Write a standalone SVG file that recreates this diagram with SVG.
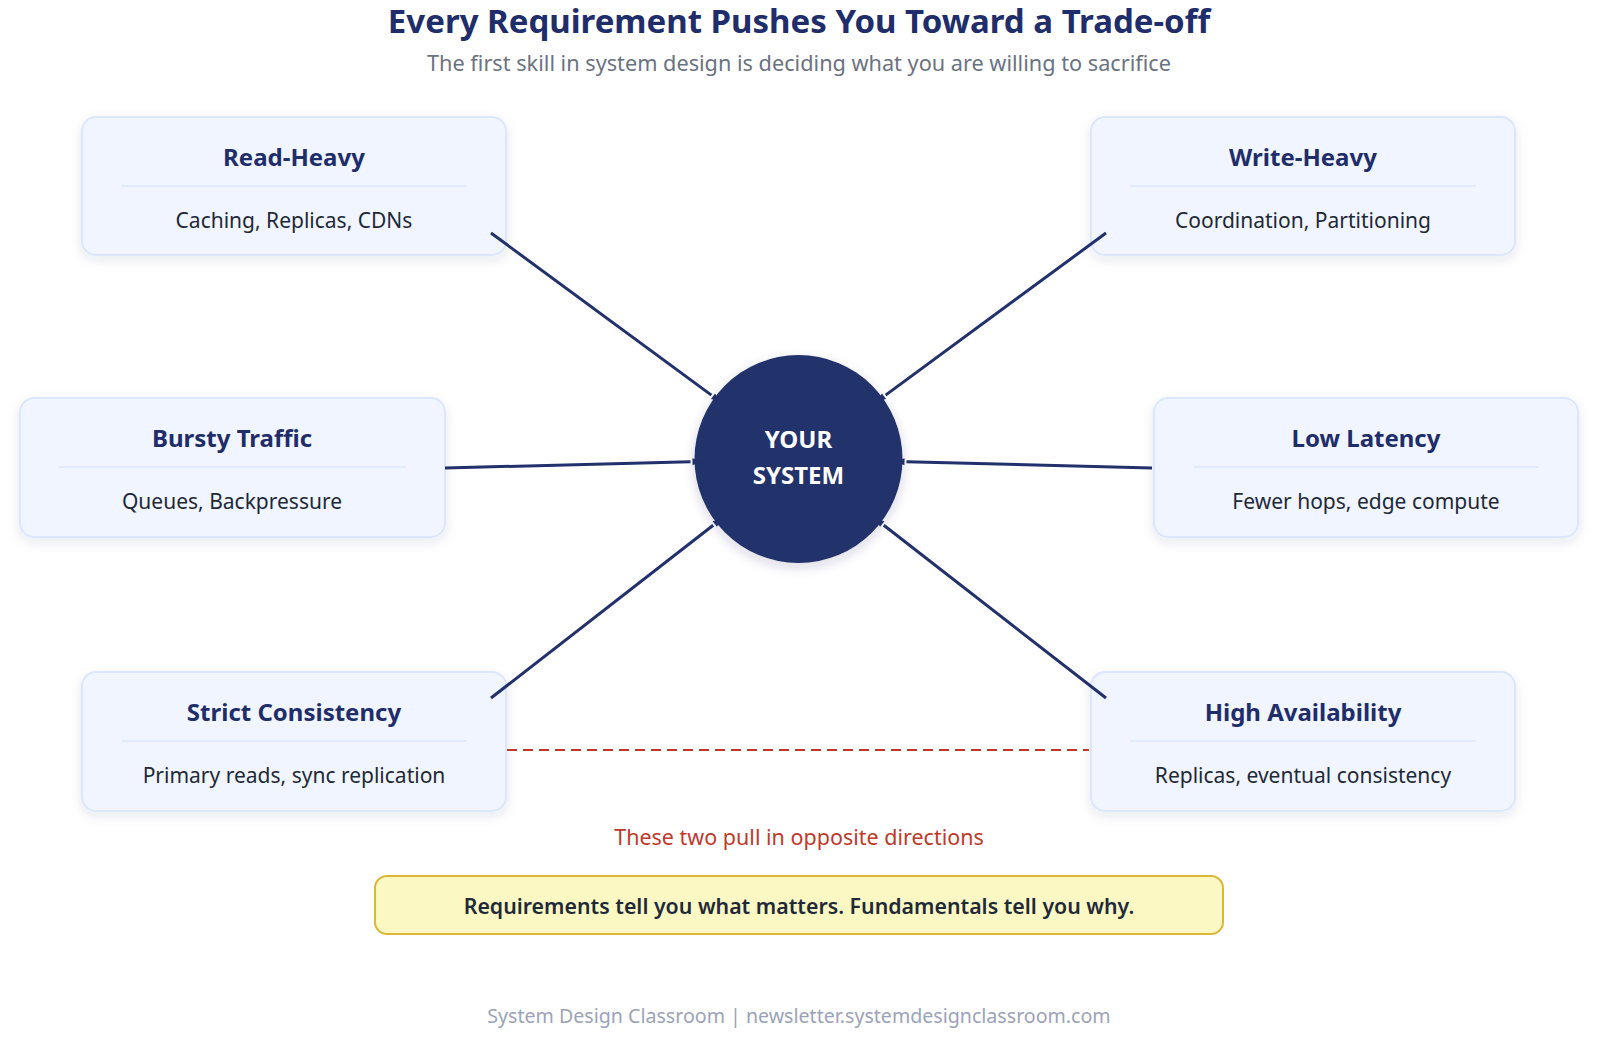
<svg xmlns="http://www.w3.org/2000/svg" width="1601" height="1038" viewBox="0 0 1601 1038">
<defs>
<filter id="sh" x="-10%" y="-15%" width="120%" height="135%">
<feDropShadow dx="0" dy="4" stdDeviation="6" flood-color="#1e2a5a" flood-opacity="0.10"/>
</filter>
<filter id="csh" x="-20%" y="-20%" width="140%" height="140%">
<feDropShadow dx="0" dy="4" stdDeviation="6" flood-color="#1e2a5a" flood-opacity="0.18"/>
</filter>
<marker id="ah" markerUnits="userSpaceOnUse" markerWidth="16" markerHeight="12" viewBox="0 -6 16 12" refX="0" refY="0" orient="auto">
<path d="M2,-3.5 L11,0 L2,3.5 z" fill="#22306b"/>
</marker>
<style>
.box{fill:#f0f5ff;stroke:#dce7fd;stroke-width:2}
.div{stroke:#dce7fd;stroke-width:1.5}
.nt{font-family:"Noto Sans","Open Sans",sans-serif;font-weight:700;font-size:24px;fill:#1f2d6b;text-anchor:middle}
.ns{font-family:"Noto Sans","Open Sans",sans-serif;font-size:21px;fill:#1f2937;text-anchor:middle}
.ln{stroke:#22306b;stroke-width:3;fill:none;marker-end:url(#ah)}
</style>
</defs>
<rect width="1601" height="1038" fill="#ffffff"/>
<text x="799" y="33" font-family="Noto Sans, sans-serif" font-weight="700" font-size="33" fill="#1f2d6b" text-anchor="middle">Every Requirement Pushes You Toward a Trade-off</text>
<text x="799" y="71" font-family="Noto Sans, sans-serif" font-size="21.7" fill="#6b7280" text-anchor="middle">The first skill in system design is deciding what you are willing to sacrifice</text>

<g id="read-heavy">
<rect class="box" x="82" y="117" width="424" height="138" rx="14" filter="url(#sh)"/>
<text class="nt" x="294" y="166">Read-Heavy</text>
<line class="div" x1="121" y1="186" x2="467" y2="186"/>
<text class="ns" x="294" y="228">Caching, Replicas, CDNs</text>
</g>
<g id="write-heavy">
<rect class="box" x="1091" y="117" width="424" height="138" rx="14" filter="url(#sh)"/>
<text class="nt" x="1303" y="166">Write-Heavy</text>
<line class="div" x1="1130" y1="186" x2="1476" y2="186"/>
<text class="ns" x="1303" y="228">Coordination, Partitioning</text>
</g>
<g id="bursty-traffic">
<rect class="box" x="20" y="398" width="425" height="139" rx="14" filter="url(#sh)"/>
<text class="nt" x="232" y="447">Bursty Traffic</text>
<line class="div" x1="59" y1="467" x2="406" y2="467"/>
<text class="ns" x="232" y="509">Queues, Backpressure</text>
</g>
<g id="low-latency">
<rect class="box" x="1154" y="398" width="424" height="139" rx="14" filter="url(#sh)"/>
<text class="nt" x="1366" y="447">Low Latency</text>
<line class="div" x1="1193" y1="467" x2="1539" y2="467"/>
<text class="ns" x="1366" y="509">Fewer hops, edge compute</text>
</g>
<g id="strict-consistency">
<rect class="box" x="82" y="672" width="424" height="139" rx="14" filter="url(#sh)"/>
<text class="nt" x="294" y="721">Strict Consistency</text>
<line class="div" x1="121" y1="741" x2="467" y2="741"/>
<text class="ns" x="294" y="783">Primary reads, sync replication</text>
</g>
<g id="high-availability">
<rect class="box" x="1091" y="672" width="424" height="139" rx="14" filter="url(#sh)"/>
<text class="nt" x="1303" y="721">High Availability</text>
<line class="div" x1="1130" y1="741" x2="1476" y2="741"/>
<text class="ns" x="1303" y="783">Replicas, eventual consistency</text>
</g>

<g id="your-system">
<circle cx="798.5" cy="459" r="104" fill="#22306b" filter="url(#csh)"/>
<text x="798.5" y="448" font-family="Noto Sans, sans-serif" font-weight="700" font-size="24" fill="#ffffff" text-anchor="middle">YOUR</text>
<text x="798.5" y="484" font-family="Noto Sans, sans-serif" font-weight="700" font-size="24" fill="#ffffff" text-anchor="middle">SYSTEM</text>
</g>

<g id="connectors">
<line class="ln" x1="491" y1="233" x2="711.4" y2="395.1"/>
<line class="ln" x1="1106" y1="233" x2="885.6" y2="395.1"/>
<line class="ln" x1="445" y1="468" x2="690.5" y2="461.8"/>
<line class="ln" x1="1152" y1="468" x2="906.5" y2="461.8"/>
<line class="ln" x1="491" y1="698" x2="713.2" y2="525.3"/>
<line class="ln" x1="1106" y1="698" x2="883.8" y2="525.3"/>
<line x1="507" y1="750" x2="1089" y2="750" stroke="#c0392b" stroke-width="2" stroke-dasharray="10,6"/>
</g>

<text x="799" y="845" font-family="Noto Sans, sans-serif" font-size="21.5" fill="#c0392b" text-anchor="middle">These two pull in opposite directions</text>

<g id="takeaway">
<rect x="375" y="876" width="848" height="58" rx="12" fill="#fcf8c4" stroke="#dcb635" stroke-width="2"/>
<text x="799" y="914" font-family="Noto Sans, sans-serif" font-weight="600" font-size="21.3" fill="#1f2937" text-anchor="middle">Requirements tell you what matters. Fundamentals tell you why.</text>
</g>

<text x="799" y="1023" font-family="Noto Sans, sans-serif" font-size="19.6" fill="#9ca3b8" text-anchor="middle">System Design Classroom | newsletter.systemdesignclassroom.com</text>
</svg>
